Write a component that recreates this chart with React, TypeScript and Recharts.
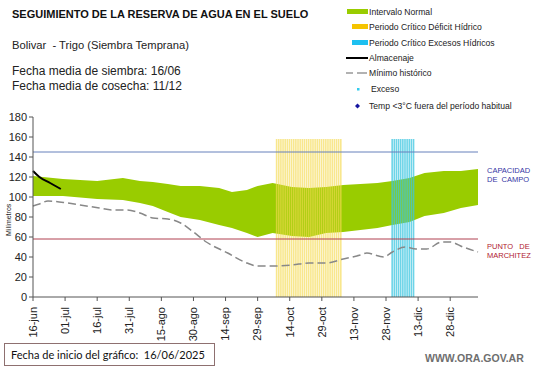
import { ComposedChart, Area, Bar, Line, XAxis, YAxis, ReferenceLine } from "recharts";

// dias contados desde 16/06
const xTickDays = [0, 15, 30, 45, 60, 75, 90, 105, 120, 135, 150, 165, 180, 195];
const xTickLabels = ["16-jun", "01-jul", "16-jul", "31-jul", "15-ago", "30-ago", "14-sep", "29-sep", "14-oct", "29-oct", "13-nov", "28-nov", "13-dic", "28-dic"];
const yTicks = [0, 20, 40, 60, 80, 100, 120, 140, 160, 180];

// Intervalo normal (limites inferior y superior)
const bandDays = [0, 14, 30, 42, 50, 56, 63, 69, 78, 87, 93, 100, 105, 112, 121, 129, 137, 145, 153, 161, 168, 176, 183, 192, 200, 208];
const bandUpper = [121, 118, 116, 119, 116, 115, 113, 111, 111, 109, 105, 107, 111, 114, 110, 109, 110, 112, 113, 114, 116, 119, 124, 126, 126, 128];
const bandLower = [101, 101, 98, 97, 94, 91, 85, 80, 77, 72, 69, 64, 60, 64, 61, 60, 64, 65, 67, 69, 72, 75, 81, 84, 89, 92];

// Minimo historico
const minDays = [0, 3, 7, 16, 22, 31, 37, 44, 50, 56, 63, 69, 75, 81, 91, 100, 105, 111, 121, 129, 137, 145, 153, 156, 164, 168, 174, 179, 184, 191, 195, 201, 208];
const minValues = [91, 93, 96, 94, 92, 89, 87, 87, 84, 79, 78, 74, 65, 55, 44, 34, 31, 31, 32, 34, 34, 38, 42, 44, 40, 45, 50, 48, 48, 55, 55, 50, 45];

// Almacenaje
const almDays = [0, 3, 8, 13];
const almValues = [126, 120, 114, 108];

// Periodos criticos [inicio, fin] en dias
const deficitPeriod = [114, 144];
const excesoPeriod = [168, 178];
const periodTop = 158;

const capacidadCampo = 145;
const puntoMarchitez = 58;
const lastDay = 208;

const table: any[] = [];
for (let d = 0; d <= lastDay; d++) {
    const row: any = { day: d };
    const b = bandDays.indexOf(d);
    if (b >= 0) row.band = [bandLower[b], bandUpper[b]];
    const m = minDays.indexOf(d);
    if (m >= 0) row.minimo = minValues[m];
    const a = almDays.indexOf(d);
    if (a >= 0) row.almacenaje = almValues[a];
    if (d >= deficitPeriod[0] && d <= deficitPeriod[1]) row.deficit = periodTop;
    if (d >= excesoPeriod[0] && d <= excesoPeriod[1]) row.exceso = periodTop;
    table.push(row);
}

function XTick(props: any) {
    const { x, y, payload } = props;
    const i = xTickDays.indexOf(payload.value);
    return (
        <text
            x={x}
            y={y + 4}
            transform={`rotate(-90, ${x}, ${y + 4})`}
            textAnchor="end"
            dy="0.35em"
            fontSize={11}
            fill="#222"
        >
            {xTickLabels[i]}
        </text>
    );
}

const legendText: any = { position: "absolute", left: 369, fontSize: 8.6, color: "#222", whiteSpace: "nowrap", lineHeight: "10px" };

export default function App() {
    return (
        <div style={{ position: "absolute", left: 0, top: 0, width: 541, height: 368, background: "#fff", fontFamily: "'Liberation Sans', Arial, sans-serif", overflow: "hidden" }}>
            <ComposedChart width={541} height={368} data={table} margin={{ top: 117, right: 63, bottom: 0, left: 0 }}>
                <XAxis
                    dataKey="day"
                    type="number"
                    domain={[0, lastDay]}
                    ticks={xTickDays}
                    tick={<XTick />}
                    height={71}
                    interval={0}
                    tickSize={4}
                    stroke="#555"
                />
                <YAxis
                    domain={[0, 180]}
                    ticks={yTicks}
                    width={33}
                    tickSize={4}
                    interval={0}
                    stroke="#555"
                    tick={{ fontSize: 11, fill: "#222" }}
                />
                <Area
                    dataKey="band"
                    type="linear"
                    stroke="none"
                    fill="#99CC00"
                    fillOpacity={1}
                    connectNulls
                    isAnimationActive={false}
                />
                <Bar dataKey="deficit" stackId="p" fill="#F5DA50" fillOpacity={0.65} barSize={1.6} isAnimationActive={false} />
                <Bar dataKey="exceso" stackId="p" fill="#3CC6E0" fillOpacity={0.75} barSize={1.6} isAnimationActive={false} />
                <ReferenceLine y={capacidadCampo} stroke="#6680BB" strokeWidth={1} />
                <ReferenceLine y={puntoMarchitez} stroke="#B04050" strokeWidth={1} />
                <Line
                    dataKey="minimo"
                    type="monotone"
                    stroke="#888"
                    strokeWidth={1.5}
                    strokeDasharray="8 4"
                    dot={false}
                    connectNulls
                    isAnimationActive={false}
                />
                <Line
                    dataKey="almacenaje"
                    type="monotone"
                    stroke="#000"
                    strokeWidth={2}
                    dot={false}
                    connectNulls
                    isAnimationActive={false}
                />
            </ComposedChart>

            <div style={{ position: "absolute", left: 12, top: 8, fontSize: 11, fontWeight: "bold", color: "#111", whiteSpace: "nowrap" }}>
                SEGUIMIENTO DE LA RESERVA DE AGUA EN EL SUELO
            </div>
            <div style={{ position: "absolute", left: 12, top: 39, fontSize: 11.2, color: "#222", whiteSpace: "nowrap" }}>
                Bolivar&nbsp; - Trigo (Siembra Temprana)
            </div>
            <div style={{ position: "absolute", left: 12, top: 64, fontSize: 12, color: "#222", whiteSpace: "nowrap", lineHeight: "15px" }}>
                Fecha media de siembra: 16/06<br />Fecha media de cosecha: 11/12
            </div>

            <svg style={{ position: "absolute", left: 0, top: 0 }} width={541} height={120}>
                <rect x={347} y={9} width={21} height={5} fill="#99CC00" />
                <rect x={352} y={24} width={16} height={5} fill="#F5C400" />
                <rect x={352} y={40} width={16} height={5} fill="#1EC0F0" />
                <line x1={346} x2={368} y1={58} y2={58} stroke="#000" strokeWidth={2} />
                <line x1={346} x2={353} y1={73} y2={73} stroke="#999" strokeWidth={1.5} />
                <line x1={357} x2={367} y1={73} y2={73} stroke="#999" strokeWidth={1.5} />
                <rect x={357} y={88} width={2.5} height={2.5} fill="#33CCEE" />
                <path d="M357.5,103.5 L360,106 L357.5,108.5 L355,106 Z" fill="#1515A0" />
            </svg>
            <div style={{ ...legendText, top: 7 }}>Intervalo Normal</div>
            <div style={{ ...legendText, top: 22 }}>Periodo Crítico Déficit Hídrico</div>
            <div style={{ ...legendText, top: 38 }}>Periodo Crítico Excesos Hídricos</div>
            <div style={{ ...legendText, top: 53 }}>Almacenaje</div>
            <div style={{ ...legendText, top: 68 }}>Mínimo histórico</div>
            <div style={{ ...legendText, top: 84, left: 371 }}>Exceso</div>
            <div style={{ ...legendText, top: 101 }}>Temp &lt;3°C fuera del período habitual</div>

            <div style={{ position: "absolute", left: 5, top: 236, fontSize: 7, color: "#222", transform: "rotate(-90deg)", transformOrigin: "0 0", whiteSpace: "nowrap" }}>
                Milímetros
            </div>

            <div style={{ position: "absolute", left: 487, top: 166, fontSize: 7.5, color: "#3535A5", lineHeight: "9px", whiteSpace: "pre" }}>
                {"CAPACIDAD\nDE  CAMPO"}
            </div>
            <div style={{ position: "absolute", left: 487, top: 242, fontSize: 7.5, color: "#B02030", lineHeight: "9px", whiteSpace: "pre" }}>
                {"PUNTO   DE\nMARCHITEZ"}
            </div>

            <div style={{ position: "absolute", left: 4, top: 343, width: 209, height: 21, border: "1px solid #8E7070", fontFamily: "Lato, sans-serif", fontSize: 11, color: "#111", boxSizing: "content-box" }}>
                <span style={{ position: "absolute", left: 6, top: 4, whiteSpace: "pre" }}>Fecha de inicio del gráfico:  16/06/2025</span>
            </div>
            <div style={{ position: "absolute", left: 425, top: 352, fontSize: 10.5, color: "#6E6E6E", fontWeight: "bold", whiteSpace: "nowrap" }}>
                WWW.ORA.GOV.AR
            </div>
        </div>
    );
}
